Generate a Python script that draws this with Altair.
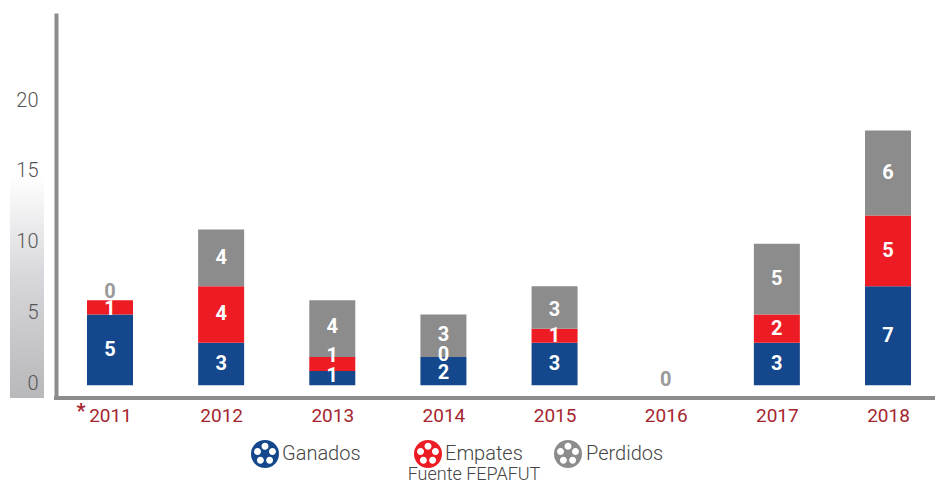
import math
import altair as alt
import pandas as pd

years = ["2011", "2012", "2013", "2014", "2015", "2016", "2017", "2018"]
ganados = [5, 3, 1, 2, 3, 0, 3, 7]
empates = [1, 4, 1, 0, 1, 0, 2, 5]
perdidos = [0, 4, 4, 3, 3, 0, 5, 6]
# vertical anchors of the value labels
pos_ganados = [2.5, 1.5, 0.65, 0.9, 1.5, None, 1.5, 3.5]
pos_empates = [5.4, 5.0, 2.05, 2.15, 3.5, None, 4.0, 9.5]
pos_perdidos = [6.6, 9.0, 4.1, 3.55, 5.3, 0.4, 7.5, 15.0]
series_names = ["Ganados", "Empates", "Perdidos"]
series_colors = ["#14478c", "#ed1c24", "#8c8c8c"]
legend_icon_x = [209, 372, 512]
legend_text_x = [226, 389, 530]

FONT = "Roboto"
rows = []
for i, y in enumerate(years):
    for k, (vals, ps) in enumerate(zip((ganados, empates, perdidos),
                                       (pos_ganados, pos_empates, pos_perdidos))):
        rows.append({"year": y, "serie": series_names[k], "order": k, "value": vals[i],
                     "pos": ps[i], "muted": vals[i] == 0 and k == 2})
df = pd.DataFrame(rows)

x_scale = alt.Scale(type="point", domain=years, range=[54, 832], padding=0)
x_enc = alt.X("year:N", sort=years, title=None, scale=x_scale,
              axis=alt.Axis(labelColor="#a5252f", labelFont=FONT, labelFontSize=19, labelAngle=0,
                            labelPadding=8, ticks=False, domain=False, grid=False,
                            labelFontWeight=400))
y_scale = alt.Scale(domain=[-0.9, 26.3], nice=False, zero=False)

strip = alt.Chart(pd.DataFrame({"a": [0]})).mark_rect(
    color=alt.Gradient(gradient="linear",
                       stops=[alt.GradientStop(color="#ffffff", offset=0),
                              alt.GradientStop(color="#d8d8dc", offset=0.45),
                              alt.GradientStop(color="#b8b8ba", offset=1)],
                       x1=0, x2=0, y1=0, y2=1)
).encode(x=alt.value(-46), x2=alt.value(-12), y=alt.value(162), y2=alt.value(385))

baseline = alt.Chart(pd.DataFrame({"a": [0]})).mark_rule(color="#8c8c8c", strokeWidth=4).encode(
    x=alt.value(-2), x2=alt.value(879), y=alt.value(385))

bars = alt.Chart(df).mark_bar(width=46).encode(
    x=x_enc,
    y=alt.Y("value:Q", stack="zero", scale=y_scale, title=None,
            axis=alt.Axis(values=[0, 5, 10, 15, 20], labelColor="#555555", labelFont=FONT,
                          labelFontSize=20, labelFontWeight=300, labelPadding=18, ticks=False,
                          labelOffset=-2, domainColor="#8c8c8c", domainWidth=4, grid=False,
                          zindex=1)),
    color=alt.Color("serie:N", scale=alt.Scale(domain=series_names, range=series_colors), legend=None),
    order=alt.Order("order:Q"),
)

labels = alt.Chart(df[df["pos"].notna()]).mark_text(
    font=FONT, fontSize=20, fontWeight="bold", baseline="middle", align="center"
).encode(
    x=alt.X("year:N", sort=years, scale=x_scale),
    y=alt.Y("pos:Q", scale=y_scale),
    text=alt.Text("value:Q"),
    color=alt.condition("datum.muted", alt.value("#9a9a9a"), alt.value("#ffffff")),
)

asterisk = alt.Chart(pd.DataFrame({"t": ["*"]})).mark_text(
    font=FONT, fontSize=20, fontWeight="bold", color="#a5252f", align="center", baseline="middle"
).encode(x=alt.value(25), y=alt.value(399), text="t:N")


def blob(cx, cy, r):
    return f"M{cx - r:.3f} {cy:.3f}a{r} {r} 0 1 0 {2 * r} 0a{r} {r} 0 1 0 {-2 * r} 0z"


spots = "".join(
    blob(0.56 * math.cos(math.radians(a)), 0.56 * math.sin(math.radians(a)), 0.25)
    for a in (-90, -18, 54, 126, 198)
)

legend_df = pd.DataFrame({"name": series_names, "color": series_colors,
                          "ix": legend_icon_x, "tx": legend_text_x})
legend_y = alt.value(441)
balls = alt.Chart(legend_df).mark_point(filled=True, shape="circle", size=784, opacity=1).encode(
    x=alt.X("ix:Q", scale=None), y=legend_y, color=alt.Color("color:N", scale=None))
ball_spots = alt.Chart(legend_df).mark_point(filled=True, shape=spots, size=784, opacity=1,
                                             color="#ffffff").encode(
    x=alt.X("ix:Q", scale=None), y=legend_y)
legend_text = alt.Chart(legend_df).mark_text(
    font=FONT, fontSize=20, fontWeight=300, color="#444444", align="left", baseline="middle"
).encode(x=alt.X("tx:Q", scale=None), y=legend_y, text="name:N")
source = alt.Chart(pd.DataFrame({"t": ["Fuente FEPAFUT"]})).mark_text(
    font=FONT, fontSize=18, fontWeight=300, color="#444444", align="center", baseline="bottom"
).encode(x=alt.value(418), y=alt.value(471), text="t:N")

chart = alt.layer(
    strip, baseline, bars, labels, asterisk, balls, ball_spots, legend_text, source
).properties(
    width=879, height=385,
    autosize=alt.AutoSizeParams(type="none"),
    padding={"left": 48, "top": 5, "right": 0, "bottom": 87},
).configure_view(stroke=None)

chart.save("out.html", embed_options={"renderer": "svg", "actions": False})
